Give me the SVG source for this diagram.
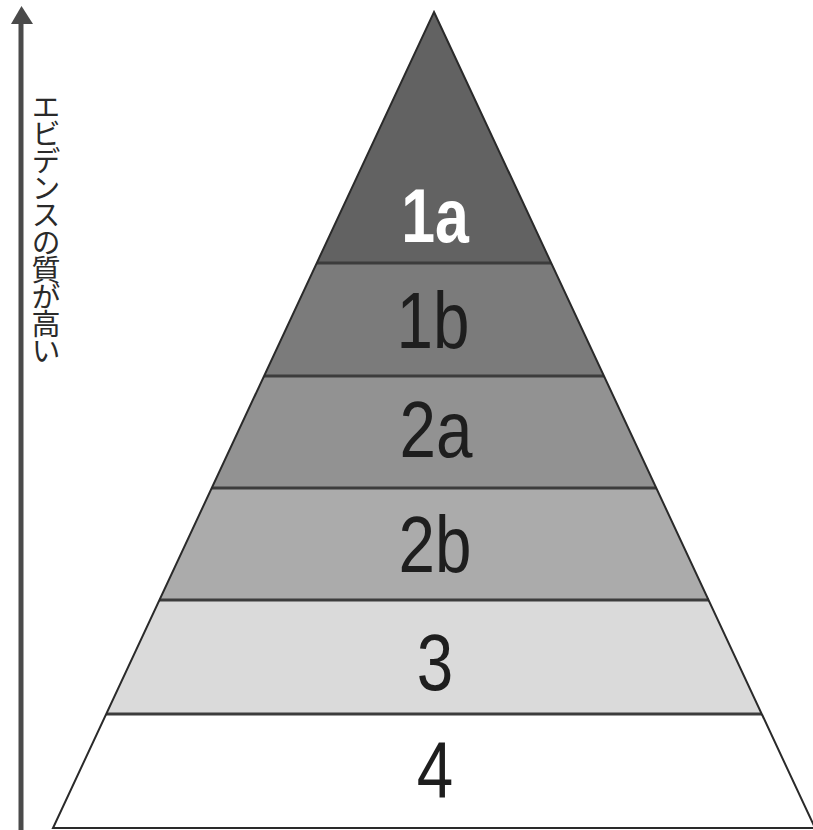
<svg xmlns="http://www.w3.org/2000/svg" width="813" height="830" viewBox="0 0 813 830">
<style>
.band{stroke:none}
.sep{stroke:#3c3c3c;stroke-width:3}
.edge{fill:none;stroke:#2a2a2a;stroke-width:2;stroke-linejoin:miter}
.lbl{font-family:"Liberation Sans",Arial,sans-serif;font-size:80px;fill:#1e1e1e;text-anchor:middle}
.lbl1a{font-family:"Liberation Sans",Arial,sans-serif;font-size:76px;font-weight:bold;fill:#ffffff;text-anchor:middle}
.vert{font-family:"Noto Sans CJK JP","Noto Sans",sans-serif;font-size:29px;letter-spacing:-1.8px;fill:#2a2a2a;writing-mode:vertical-rl}
</style>
<rect width="813" height="830" fill="#ffffff"/>
<g id="axis">
<line x1="21" y1="20" x2="21" y2="830" stroke="#4a4a4a" stroke-width="5"/>
<polygon points="21.5,6 11,24 33,24" fill="#4a4a4a"/>
<text class="vert" x="46" y="92">エビデンスの質が高い</text>
</g>
<g id="level-1a">
<polygon class="band" points="434,12 551,263 317,263" fill="#626262"/>
<text class="lbl1a" transform="translate(435,242) scale(0.8,1)">1a</text>
</g>
<g id="level-1b">
<polygon class="band" points="317,263 551,263 604,376 264,376" fill="#7b7b7b"/>
<text class="lbl" transform="translate(433,348) scale(0.82,1)">1b</text>
</g>
<g id="level-2a">
<polygon class="band" points="264,376 604,376 656,488 212,488" fill="#929292"/>
<text class="lbl" transform="translate(436,457) scale(0.82,1)">2a</text>
</g>
<g id="level-2b">
<polygon class="band" points="212,488 656,488 709,600 159,600" fill="#ababab"/>
<text class="lbl" transform="translate(435,572) scale(0.82,1)">2b</text>
</g>
<g id="level-3">
<polygon class="band" points="159,600 709,600 762,714 106,714" fill="#dadada"/>
<text class="lbl" transform="translate(435,690) scale(0.82,1)">3</text>
</g>
<g id="level-4">
<polygon class="band" points="106,714 762,714 815,828 53,828" fill="#ffffff"/>
<text class="lbl" transform="translate(435,797) scale(0.82,1)">4</text>
</g>
<g id="connectors">
<line class="sep" x1="317" y1="263" x2="551" y2="263"/>
<line class="sep" x1="264" y1="376" x2="604" y2="376"/>
<line class="sep" x1="212" y1="488" x2="656" y2="488"/>
<line class="sep" x1="159" y1="600" x2="709" y2="600"/>
<line class="sep" x1="106" y1="714" x2="762" y2="714"/>
<polygon class="edge" points="434,12 815,828 53,828"/>
</g>
</svg>
